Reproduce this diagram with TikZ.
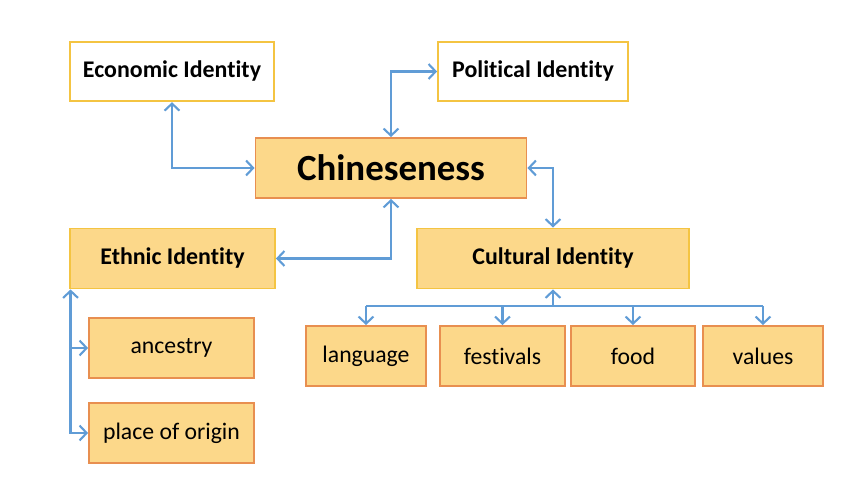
\documentclass[tikz,border=0pt]{standalone}
\usepackage{fontspec}
\setmainfont[Ligatures=NoCommon]{Carlito}
\usetikzlibrary{arrows.meta}

\definecolor{linkblue}{RGB}{96,156,214}
\definecolor{boxfill}{RGB}{252,216,138}
\definecolor{edgeorange}{RGB}{232,143,80}
\definecolor{edgeyellow}{RGB}{244,196,66}

\begin{document}
\begin{tikzpicture}[x=0.02cm,y=-0.02cm]

    \tikzset{
      idbox/.style={
        draw=edgeyellow,
        line width=1.1pt,
        inner sep=0pt,
        minimum height=1.19cm,
        font=\fontsize{13.6}{15}\selectfont\bfseries,
      },
      leafbox/.style={
        draw=edgeorange,
        fill=boxfill,
        line width=1.1pt,
        inner sep=0pt,
        minimum height=1.2cm,
        font=\fontsize{13.5}{15}\selectfont,
      },
      link/.style={
        draw=linkblue,
        line width=1.2pt,
        >={Straight Barb[length=4pt,width=8.5pt,line width=1.2pt]},
      },
    }
    \useasboundingbox (0,0) rectangle (866,502);

	% top row
	\node[idbox,minimum width=4.08cm] (econ) at (172,71.5) {Economic Identity};
	\node[idbox,minimum width=3.8cm] (polit) at (533,71.5) {Political Identity};
	% centre
	\node[leafbox,minimum width=5.42cm,font=\fontsize{21}{24}\selectfont\bfseries] (chin) at (391,168) {Chineseness};
	% second row
	\node[idbox,fill=boxfill,minimum width=4.1cm,minimum height=1.2cm] (ethnic) at (172.5,258.5) {Ethnic Identity};
	\node[idbox,fill=boxfill,minimum width=5.44cm,minimum height=1.2cm] (cult) at (553,258.5) {Cultural Identity};
	% ethnic parts
	\node[leafbox,minimum width=3.3cm] (anc) at (171.5,348) {ancestry};
	\node[leafbox,minimum width=3.3cm] (origin) at (171.5,433) {place of origin};
	% cultural parts
	\node[leafbox,minimum width=2.4cm] (lang) at (366,356) {language};
	\node[leafbox,minimum width=2.5cm] (fest) at (502.5,356) {festivals};
	\node[leafbox,minimum width=2.48cm] (food) at (633,356) {food};
	\node[leafbox,minimum width=2.4cm] (vals) at (763,356) {values};

	% links to the centre
	\draw[link,<->] (econ.south) |- (chin.west);
	\draw[link,<->] (chin.north) |- (polit.west);
	\draw[link,<->] (chin.east) -| (cult.north);
	\draw[link,<->] (chin.south) |- (ethnic.east);

	% cultural tree
	\coordinate (bus) at (553,306);
	\draw[link,<-] (cult.south) -- (bus);
	\draw[link] (lang.north |- bus) -- (vals.north |- bus);
	\foreach \leaf in {lang,fest,food,vals}
		\draw[link,->] (\leaf.north |- bus) -- (\leaf.north);

	% ethnic tree
	\coordinate (spine) at ([xshift=0.03cm]ethnic.south west);
	\draw[link,<->] (spine) |- (origin.west);
	\draw[link,->] (spine |- anc.west) -- (anc.west);

\end{tikzpicture}
\end{document}
